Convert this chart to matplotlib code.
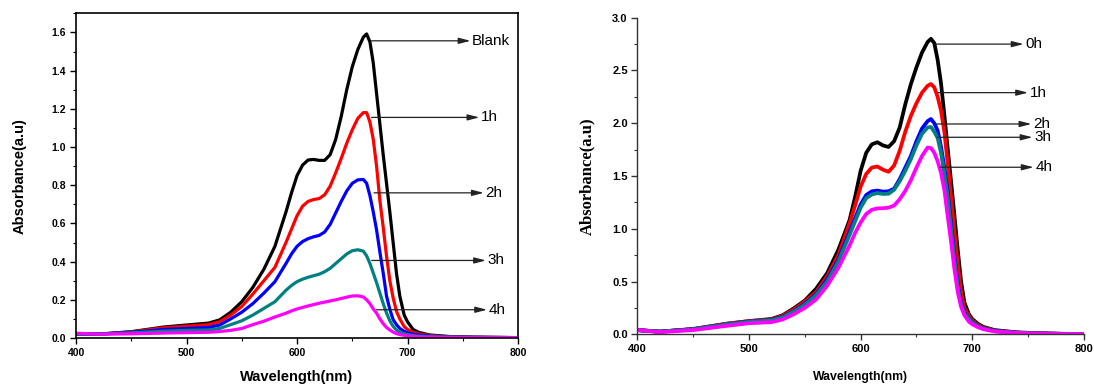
import matplotlib
matplotlib.use("Agg")
import matplotlib.pyplot as plt
from matplotlib.ticker import MultipleLocator, FormatStrFormatter

plt.rcParams['font.family'] = ['Liberation Sans', 'DejaVu Sans']

# shared wavelength grid (nm)
wl = [400, 420, 450, 480, 500, 520, 530, 540, 550, 560, 570, 580, 590, 595,
      600, 605, 610, 615, 620, 625, 630, 635, 640, 645, 650, 655, 660, 663,
      666, 669, 672, 675, 678, 681, 684, 687, 690, 693, 697, 700, 705, 710,
      720, 740, 760, 780, 800]

# left panel
left_blank = [0.022, 0.02, 0.033, 0.058, 0.068, 0.078, 0.095, 0.135, 0.19, 0.265, 0.36, 0.48, 0.66, 0.76,
              0.85, 0.905, 0.932, 0.935, 0.93, 0.93, 0.96, 1.04, 1.16, 1.3, 1.42, 1.51, 1.575, 1.592,
              1.55, 1.44, 1.28, 1.12, 0.96, 0.81, 0.66, 0.5, 0.34, 0.22, 0.12, 0.085, 0.045, 0.03,
              0.016, 0.007, 0.004, 0.003, 0.002]
left_1h = [0.022, 0.02, 0.032, 0.054, 0.062, 0.07, 0.085, 0.12, 0.165, 0.23, 0.3, 0.37, 0.5, 0.57,
           0.64, 0.69, 0.715, 0.725, 0.73, 0.75, 0.795, 0.865, 0.94, 1.02, 1.09, 1.15, 1.18, 1.18,
           1.13, 1.04, 0.9, 0.72, 0.58, 0.43, 0.3, 0.21, 0.14, 0.1, 0.06, 0.045, 0.03, 0.022,
           0.013, 0.006, 0.004, 0.003, 0.002]
left_2h = [0.022, 0.02, 0.03, 0.045, 0.05, 0.055, 0.068, 0.1, 0.135, 0.18, 0.235, 0.295, 0.39, 0.44,
           0.48, 0.505, 0.52, 0.53, 0.537, 0.555, 0.595, 0.655, 0.715, 0.77, 0.81, 0.828, 0.83, 0.81,
           0.745, 0.66, 0.566, 0.45, 0.34, 0.22, 0.15, 0.096, 0.07, 0.05, 0.035, 0.028, 0.02, 0.016,
           0.01, 0.005, 0.004, 0.003, 0.002]
left_3h = [0.022, 0.02, 0.027, 0.036, 0.04, 0.042, 0.05, 0.07, 0.09, 0.12, 0.155, 0.19, 0.25, 0.275,
           0.295, 0.308, 0.318, 0.326, 0.334, 0.347, 0.365, 0.39, 0.415, 0.44, 0.457, 0.462, 0.455, 0.43,
           0.39, 0.34, 0.29, 0.235, 0.18, 0.131, 0.09, 0.061, 0.042, 0.03, 0.022, 0.018, 0.013, 0.01,
           0.007, 0.004, 0.003, 0.002, 0.002]
left_4h = [0.025, 0.02, 0.022, 0.026, 0.028, 0.03, 0.034, 0.04, 0.05, 0.07, 0.088, 0.11, 0.13, 0.142,
           0.152, 0.16, 0.168, 0.175, 0.182, 0.188, 0.194, 0.2, 0.207, 0.214, 0.22, 0.221, 0.215, 0.2,
           0.18, 0.152, 0.13, 0.1, 0.075, 0.055, 0.042, 0.031, 0.023, 0.018, 0.014, 0.011, 0.008, 0.006,
           0.004, 0.003, 0.002, 0.002, 0.002]

# right panel
right_0h = [0.04, 0.025, 0.05, 0.1, 0.125, 0.145, 0.18, 0.245, 0.32, 0.43, 0.58, 0.8, 1.08, 1.3,
            1.55, 1.72, 1.8, 1.82, 1.79, 1.775, 1.83, 1.96, 2.18, 2.37, 2.53, 2.67, 2.77, 2.8,
            2.76, 2.6, 2.38, 2.08, 1.76, 1.45, 1.13, 0.8, 0.5, 0.3, 0.19, 0.145, 0.1, 0.07,
            0.04, 0.018, 0.01, 0.005, 0.002]
right_1h = [0.04, 0.025, 0.05, 0.1, 0.125, 0.14, 0.175, 0.235, 0.31, 0.4, 0.55, 0.75, 1.05, 1.22,
            1.4, 1.52, 1.58, 1.59, 1.56, 1.54, 1.6, 1.74, 1.92, 2.07, 2.19, 2.29, 2.355, 2.372,
            2.34, 2.25, 2.12, 1.92, 1.62, 1.3, 0.98, 0.67, 0.4, 0.25, 0.17, 0.13, 0.09, 0.063,
            0.036, 0.016, 0.008, 0.004, 0.002]
right_2h = [0.04, 0.025, 0.048, 0.095, 0.12, 0.135, 0.165, 0.22, 0.29, 0.38, 0.52, 0.71, 0.97, 1.1,
            1.23, 1.32, 1.355, 1.362, 1.352, 1.355, 1.38, 1.47, 1.58, 1.69, 1.83, 1.95, 2.02, 2.04,
            2.0, 1.93, 1.78, 1.58, 1.35, 1.05, 0.75, 0.48, 0.3, 0.21, 0.15, 0.115, 0.08, 0.056,
            0.032, 0.015, 0.007, 0.004, 0.002]
right_3h = [0.04, 0.025, 0.047, 0.093, 0.118, 0.132, 0.16, 0.215, 0.28, 0.37, 0.5, 0.69, 0.94, 1.07,
            1.2, 1.29, 1.325, 1.338, 1.33, 1.332, 1.37, 1.45, 1.55, 1.66, 1.79, 1.9, 1.96, 1.965,
            1.92, 1.86, 1.72, 1.52, 1.3, 1.0, 0.71, 0.45, 0.29, 0.2, 0.145, 0.11, 0.078, 0.054,
            0.03, 0.014, 0.007, 0.004, 0.002]
right_4h = [0.04, 0.02, 0.04, 0.08, 0.105, 0.115, 0.14, 0.19, 0.25, 0.33, 0.46, 0.63, 0.84, 0.96,
            1.06, 1.14, 1.18, 1.193, 1.195, 1.2, 1.22, 1.28, 1.36, 1.46, 1.58, 1.69, 1.77, 1.765,
            1.72, 1.64, 1.53, 1.37, 1.12, 0.88, 0.62, 0.4, 0.26, 0.18, 0.12, 0.095, 0.068, 0.048,
            0.027, 0.012, 0.006, 0.003, 0.002]

colors = ['black', 'red', 'blue', '#008080', 'magenta']
left_series = [left_blank, left_1h, left_2h, left_3h, left_4h]
right_series = [right_0h, right_1h, right_2h, right_3h, right_4h]

# label arrows: label, y, start nm, arrow end nm
left_labels = ['Blank', '1h', '2h', '3h', '4h']
left_label_y = [1.556, 1.155, 0.76, 0.406, 0.148]
left_label_start = [667.5, 667.5, 669.7, 667.6, 672]
left_label_end = [757, 765, 769, 771, 772]

right_labels = ['0h', '1h', '2h', '3h', '4h']
right_label_y = [2.75, 2.29, 1.993, 1.867, 1.583]
right_label_start = [666.5, 669.5, 666.6, 668.6, 671]
right_label_end = [746, 750, 753, 754, 755]

fig = plt.figure(figsize=(10.94, 3.87), dpi=100)
ax1 = fig.add_axes([0.0695, 0.1266, 0.404, 0.839])
ax2 = fig.add_axes([0.5827, 0.1362, 0.408, 0.818])

for vals, c in zip(left_series, colors):
    ax1.plot(wl, vals, color=c, lw=2.3, solid_joinstyle='round')
for vals, c in zip(right_series, colors):
    ax2.plot(wl, vals, color=c, lw=2.7, solid_joinstyle='round')

for ax, labels, ys, x0s, x1s in [(ax1, left_labels, left_label_y, left_label_start, left_label_end),
                                 (ax2, right_labels, right_label_y, right_label_start, right_label_end)]:
    for lab, y, x0, x1 in zip(labels, ys, x0s, x1s):
        ax.annotate('', xy=(x1, y), xytext=(x0, y),
                    arrowprops=dict(arrowstyle='-|>,head_length=0.7,head_width=0.18',
                                    color='#222222', lw=0.9, shrinkA=0, shrinkB=0))
        ax.text(x1 + 1.5, y, lab, fontsize=11, va='center', ha='left')

# left axes styling
ax1.set_xlim(400, 800)
ax1.set_ylim(0, 1.7)
ax1.xaxis.set_major_locator(MultipleLocator(100))
ax1.xaxis.set_minor_locator(MultipleLocator(50))
ax1.yaxis.set_major_locator(MultipleLocator(0.2))
ax1.yaxis.set_minor_locator(MultipleLocator(0.1))
ax1.yaxis.set_major_formatter(FormatStrFormatter('%.1f'))
ax1.tick_params(which='major', direction='out', length=4, width=1, labelsize=7.5, pad=3)
ax1.tick_params(which='minor', direction='out', length=2.5, width=0.8)
for sp in ax1.spines.values():
    sp.set_linewidth(1.2)
for t in ax1.get_xticklabels() + ax1.get_yticklabels():
    t.set_fontweight('bold')
ax1.set_xlabel('Wavelength(nm)', fontsize=10.5, fontweight='bold', labelpad=9)
ax1.set_ylabel('Absorbance(a.u)', fontsize=10.5, fontweight='bold', labelpad=18)

# right axes styling
ax2.set_xlim(400, 800)
ax2.set_ylim(0, 3.0)
ax2.spines['top'].set_visible(False)
ax2.spines['right'].set_visible(False)
for sp in ['left', 'bottom']:
    ax2.spines[sp].set_color('#333333')
    ax2.spines[sp].set_linewidth(1)
ax2.xaxis.set_major_locator(MultipleLocator(100))
ax2.xaxis.set_minor_locator(MultipleLocator(50))
ax2.yaxis.set_major_locator(MultipleLocator(0.5))
ax2.yaxis.set_minor_locator(MultipleLocator(0.25))
ax2.yaxis.set_major_formatter(FormatStrFormatter('%.1f'))
ax2.tick_params(which='major', direction='out', length=4, width=1, labelsize=8, pad=3, color='#333333')
ax2.tick_params(which='minor', direction='out', length=2.5, width=0.8, color='#333333')
for t in ax2.get_xticklabels() + ax2.get_yticklabels():
    t.set_fontweight('bold')
ax2.set_xlabel('Wavelength(nm)', fontsize=8.8, fontweight='bold', labelpad=12)
ax2.set_ylabel('Absorbance(a.u)', fontsize=12, fontweight='bold',
               family=['Liberation Serif', 'DejaVu Serif'], labelpad=12)

fig.savefig('out.png', dpi=100)
